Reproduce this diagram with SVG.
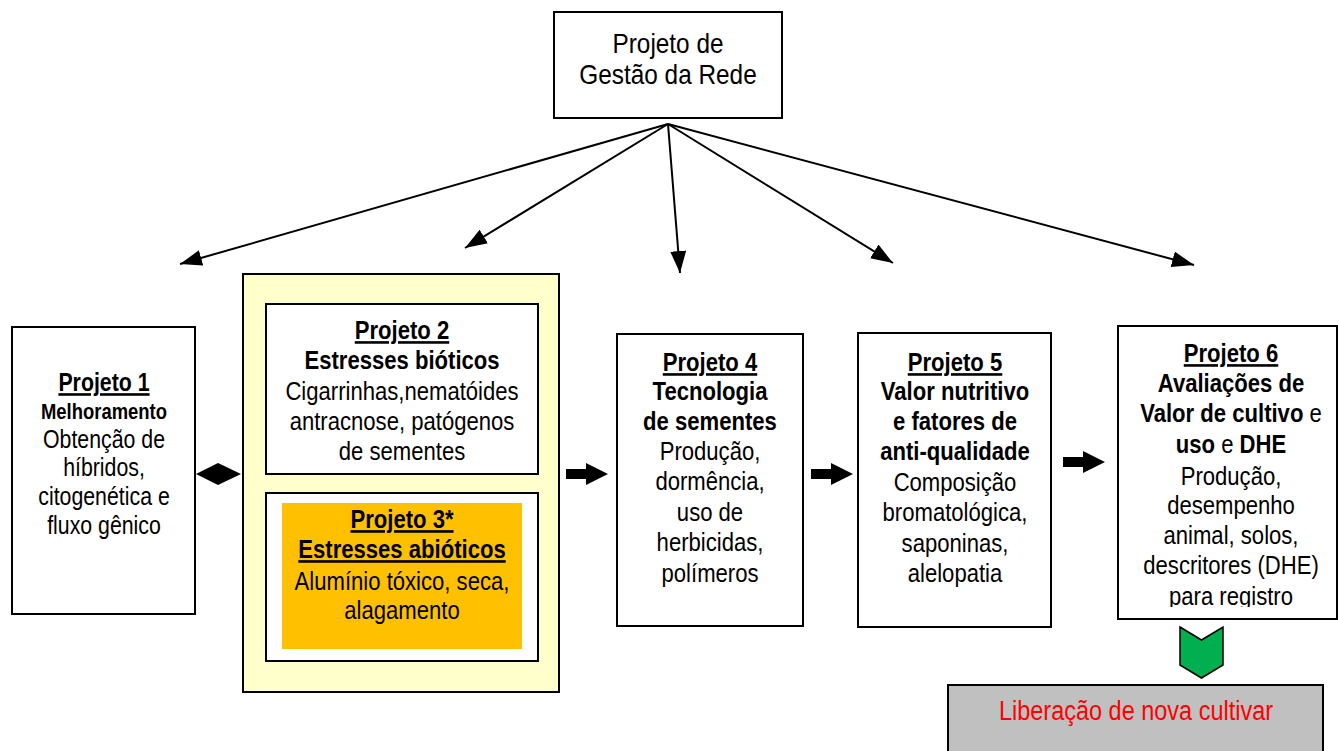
<svg xmlns="http://www.w3.org/2000/svg" width="1338" height="751" viewBox="0 0 1338 751">
<defs>
<style>
text{font-family:"Liberation Sans",Arial,sans-serif;font-size:26px;fill:#000;text-anchor:middle}
.b{font-weight:bold}
.n{font-weight:normal}
.u{text-decoration:underline}
.box{fill:#fff;stroke:#000;stroke-width:2}
.conn{stroke:#000;stroke-width:2;fill:none}
.blk{fill:#000;stroke:none}
</style>
<marker id="ah" markerUnits="userSpaceOnUse" markerWidth="24" markerHeight="18" refX="22" refY="8" orient="auto">
<path d="M0,0 L22,8 L0,16 z" fill="#000"/>
</marker>
<clipPath id="c6"><rect x="1118" y="326" width="220" height="281"/></clipPath>
</defs>

<g id="node-gestao">
<rect class="box" x="554" y="12" width="228" height="106"/>
<g transform="translate(668 0) scale(0.87 1)">
<text x="0" y="53" style="font-size:28px">Projeto de</text>
<text x="0" y="84" style="font-size:28px">Gestão da Rede</text>
</g>
</g>

<g id="connectors">
<line class="conn" x1="668" y1="124" x2="180" y2="264" marker-end="url(#ah)"/>
<line class="conn" x1="668" y1="124" x2="465" y2="248" marker-end="url(#ah)"/>
<line class="conn" x1="668" y1="124" x2="680" y2="273" marker-end="url(#ah)"/>
<line class="conn" x1="668" y1="124" x2="893" y2="263" marker-end="url(#ah)"/>
<line class="conn" x1="668" y1="124" x2="1194" y2="265" marker-end="url(#ah)"/>
<polygon class="blk" points="196,474 218,463 241,474 218,485"/>
<polygon class="blk" points="566,469 586,469 586,463 608,474 586,485 586,479 566,479"/>
<polygon class="blk" points="811,469 831,469 831,463 853,474 831,485 831,479 811,479"/>
<polygon class="blk" points="1063,457 1083,457 1083,451 1105,462 1083,473 1083,467 1063,467"/>
<polygon points="1180,627 1201.5,640 1223,627 1223,665 1201.5,678 1180,665" fill="#00B050" stroke="#000" stroke-width="1.5"/>
</g>

<g id="node-p1">
<rect class="box" x="12" y="327" width="183" height="287"/>
<g transform="translate(104 0) scale(0.82 1)">
<text class="b u" x="0" y="391">Projeto 1</text>
<text class="b" x="0" y="419" style="font-size:22.5px">Melhoramento</text>
<text x="0" y="448">Obtenção de</text>
<text x="0" y="476">híbridos,</text>
<text x="0" y="505">citogenética e</text>
<text x="0" y="534">fluxo gênico</text>
</g>
</g>

<g id="node-grupo">
<rect x="243" y="274" width="316" height="418" fill="#FFFFCC" stroke="#000" stroke-width="2"/>
</g>

<g id="node-p2">
<rect class="box" x="266" y="304" width="272" height="170"/>
<g transform="translate(402 0) scale(0.85 1)">
<text class="b u" x="0" y="339">Projeto 2</text>
<text class="b" x="0" y="369">Estresses bióticos</text>
<text x="0" y="400">Cigarrinhas,nematóides</text>
<text x="0" y="430">antracnose, patógenos</text>
<text x="0" y="460">de sementes</text>
</g>
</g>

<g id="node-p3">
<rect class="box" x="266" y="493" width="272" height="168"/>
<rect x="282" y="503" width="240" height="146" fill="#FFC000"/>
<g transform="translate(402 0) scale(0.85 1)">
<text class="b u" x="0" y="528">Projeto 3*</text>
<text class="b u" x="0" y="558">Estresses abióticos</text>
<text x="0" y="590">Alumínio tóxico, seca,</text>
<text x="0" y="619">alagamento</text>
</g>
</g>

<g id="node-p4">
<rect class="box" x="617" y="334" width="186" height="292"/>
<g transform="translate(710 0) scale(0.85 1)">
<text class="b u" x="0" y="371">Projeto 4</text>
<text class="b" x="0" y="400">Tecnologia</text>
<text class="b" x="0" y="430">de sementes</text>
<text x="0" y="460">Produção,</text>
<text x="0" y="490">dormência,</text>
<text x="0" y="521">uso de</text>
<text x="0" y="551">herbicidas,</text>
<text x="0" y="582">polímeros</text>
</g>
</g>

<g id="node-p5">
<rect class="box" x="858" y="333" width="193" height="294"/>
<g transform="translate(955 0) scale(0.85 1)">
<text class="b u" x="0" y="371">Projeto 5</text>
<text class="b" x="0" y="400">Valor nutritivo</text>
<text class="b" x="0" y="430">e fatores de</text>
<text class="b" x="0" y="460">anti-qualidade</text>
<text x="0" y="491">Composição</text>
<text x="0" y="521">bromatológica,</text>
<text x="0" y="552">saponinas,</text>
<text x="0" y="582">alelopatia</text>
</g>
</g>

<g id="node-p6">
<rect class="box" x="1118" y="326" width="219" height="293"/>
<g clip-path="url(#c6)">
<g transform="translate(1231 0) scale(0.85 1)">
<text class="b u" x="0" y="362">Projeto 6</text>
<text class="b" x="0" y="392">Avaliações de</text>
<text class="b" x="0" y="422">Valor de cultivo<tspan class="n"> e</tspan></text>
<text class="b" x="0" y="453">uso<tspan class="n"> e </tspan>DHE</text>
<text x="0" y="485">Produção,</text>
<text x="0" y="514">desempenho</text>
<text x="0" y="544">animal, solos,</text>
<text x="0" y="574">descritores (DHE)</text>
<text x="0" y="605">para registro</text>
</g>
</g>
</g>

<g id="node-liberacao">
<rect x="948" y="685" width="375" height="80" fill="#C0C0C0" stroke="#000" stroke-width="2"/>
<g transform="translate(1136 0) scale(0.87 1)">
<text x="0" y="720" style="fill:#FF0000;font-size:27px">Liberação de nova cultivar</text>
</g>
</g>
</svg>
